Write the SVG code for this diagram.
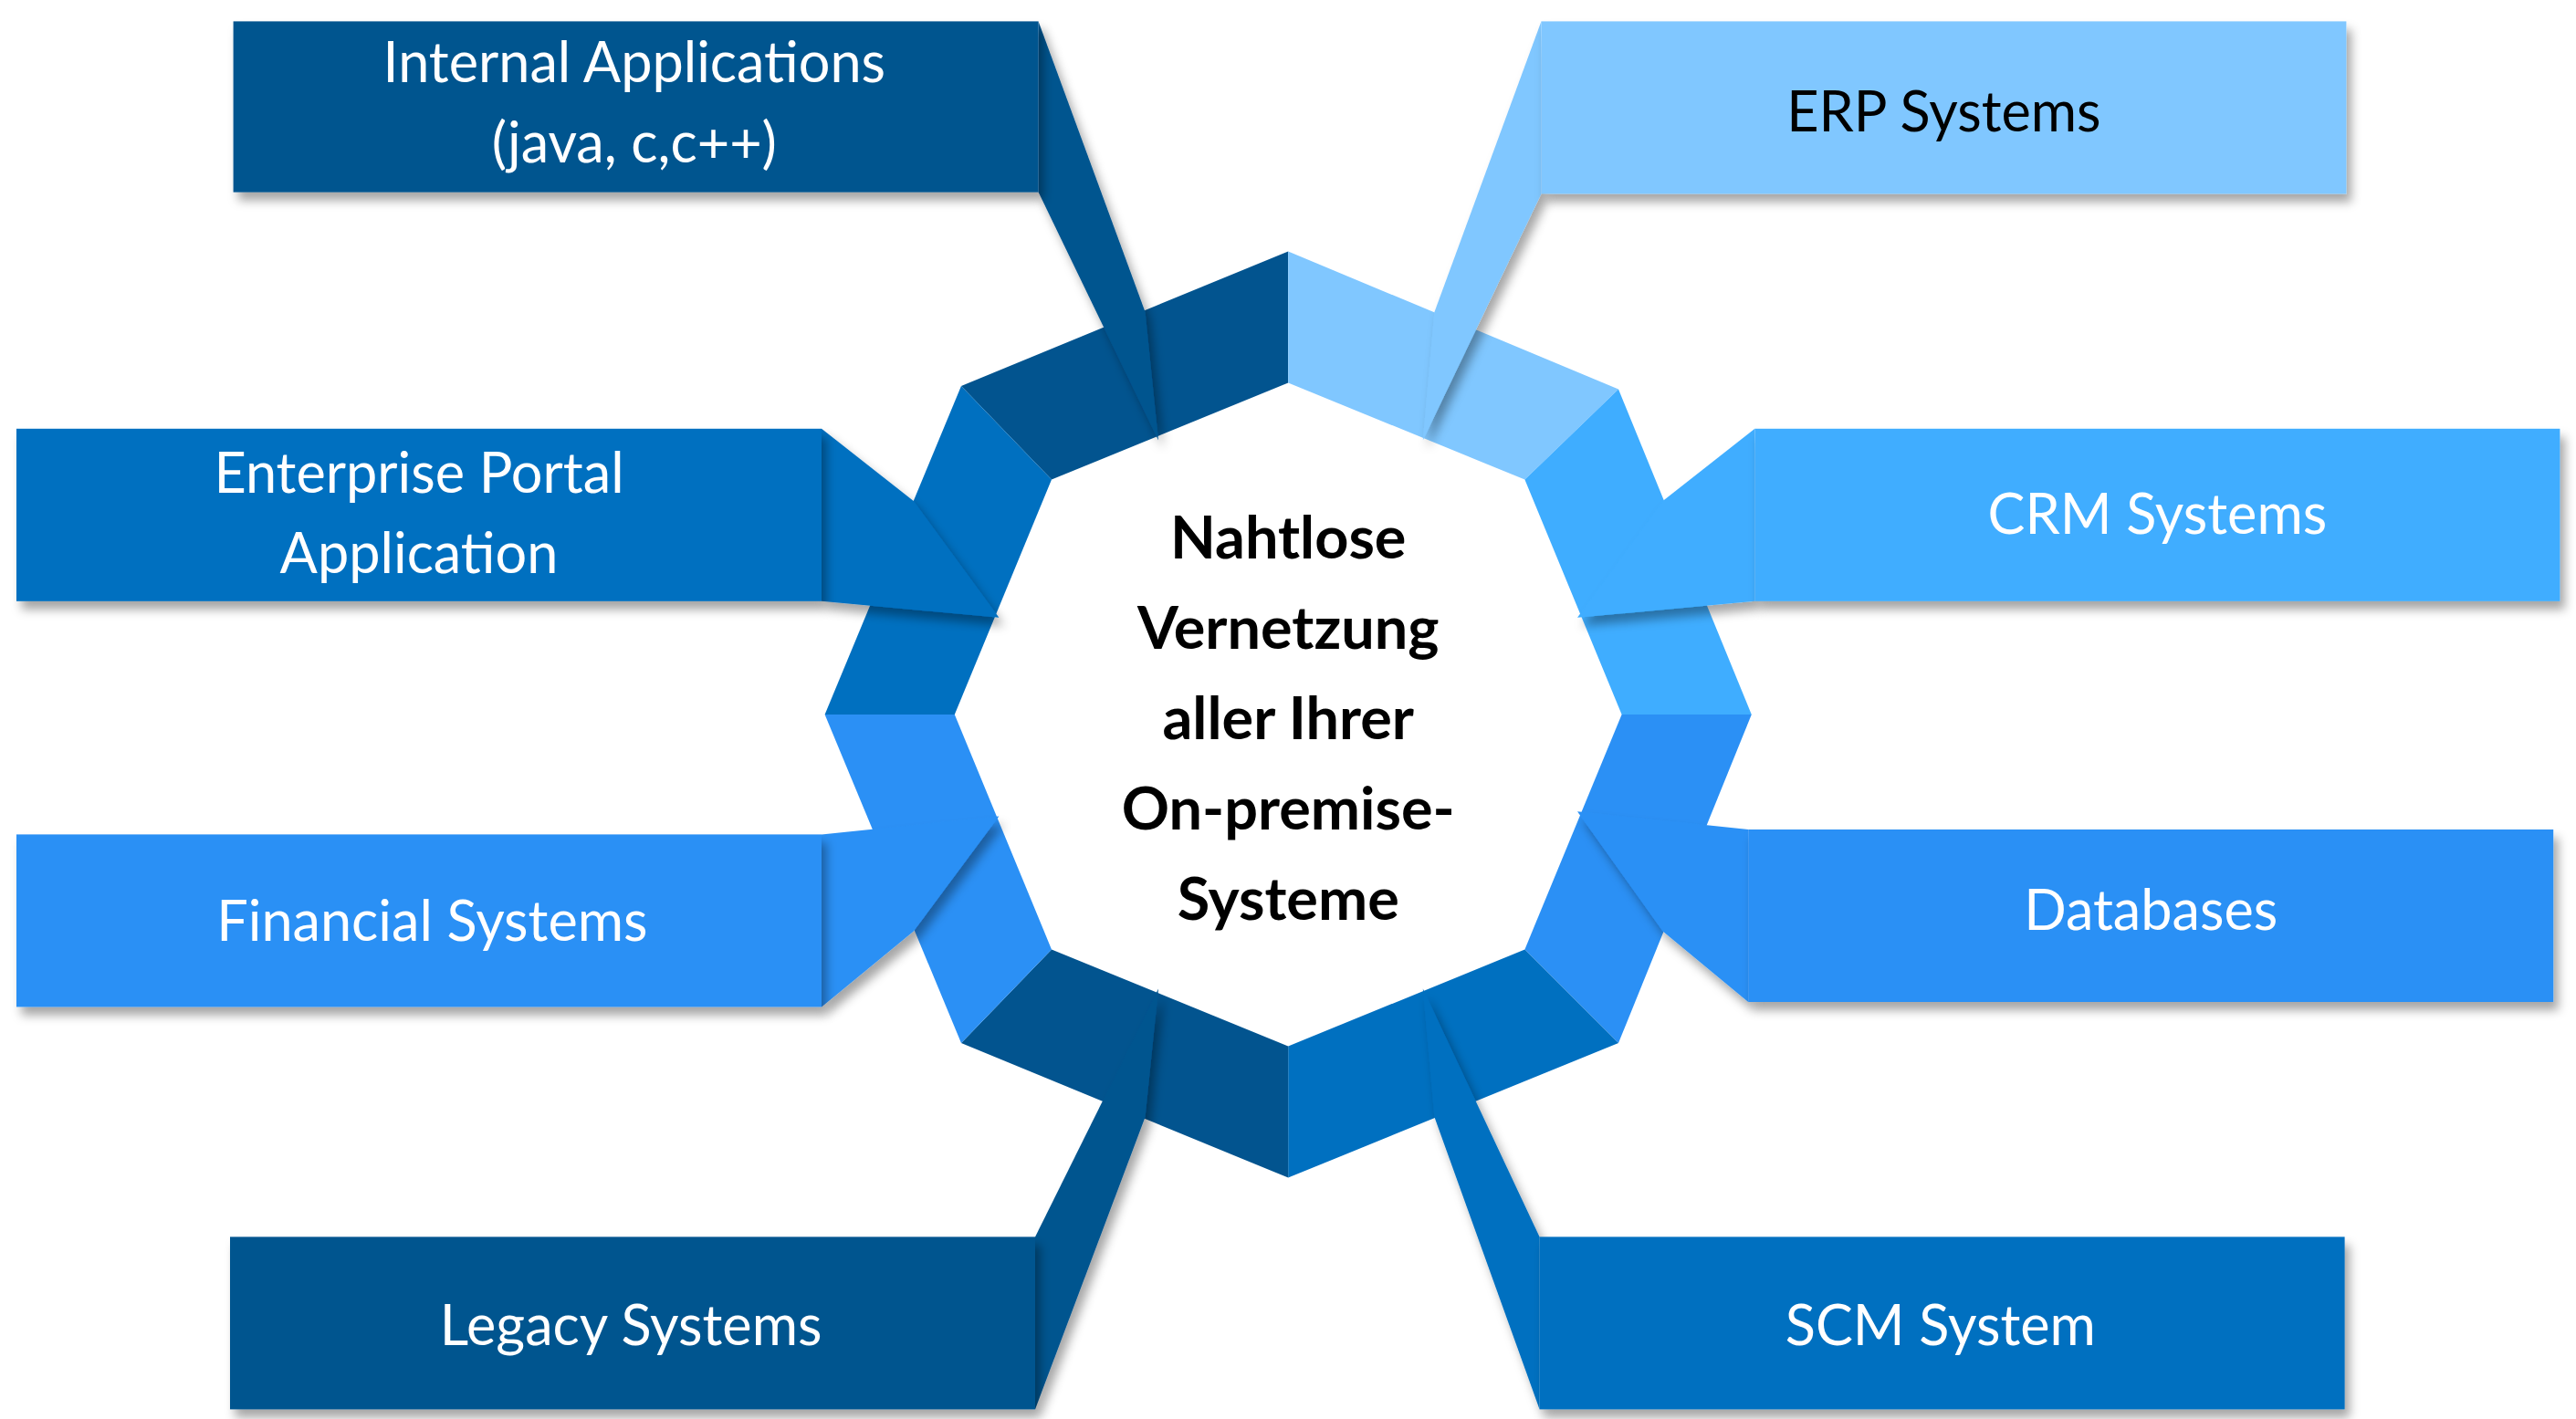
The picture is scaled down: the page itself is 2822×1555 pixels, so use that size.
<svg xmlns="http://www.w3.org/2000/svg" width="2822" height="1555" viewBox="0 0 2822 1555">
<defs>
<filter id="sh" x="-10%" y="-10%" width="130%" height="140%"><feDropShadow dx="3" dy="5" stdDeviation="3" flood-color="#000" flood-opacity="0.35"/></filter>
<style>
.c1{fill:#02548F}.c2{fill:#0070C0}.c3{fill:#2B90F5}.c4{fill:#3FADFF}.c5{fill:#80C7FF}
.t{font-family:Lato,"Open Sans",sans-serif;font-size:34px;fill:#fff;text-anchor:middle}
.dk{fill:#000}
.ct{font-family:Lato,"Open Sans",sans-serif;font-size:36px;font-weight:bold;fill:#000;text-anchor:middle}
</style>
</defs>
<rect width="2822" height="1555" fill="#fff"/>
<g transform="scale(1.8)">
<g id="ring">
<polygon class="c1" points="585,235 784,153 784,233 640,292"/>
<polygon class="c5" points="784,153 985,237 928,292 784,233"/>
<polygon class="c4" points="985,237 1066,435 987,435 928,292"/>
<polygon class="c3" points="1066,435 985,635 928,578 987,435"/>
<polygon class="c2" points="985,635 784,717 784,637 928,578"/>
<polygon class="c1" points="784,717 585,635 640,578 784,637"/>
<polygon class="c3" points="585,635 502,435 581,435 640,578"/>
<polygon class="c2" points="502,435 585,235 640,292 581,435"/>
</g>
<g id="connectors">
<polygon class="c1" points="632,13 697,190 705,268 632,117" filter="url(#sh)"/>
<polygon class="c2" points="500,261 556,305 608,376 500,366" filter="url(#sh)"/>
<polygon class="c5" points="938,13 873,190 866,268 938,118" filter="url(#sh)"/>
<polygon class="c4" points="1068,261 1012,305 960,376 1068,366" filter="url(#sh)"/>
<polygon class="c3" points="500,508 608,497 556,567 500,613" filter="url(#sh)"/>
<polygon class="c3" points="1064,505 960,494 1012,567 1064,610" filter="url(#sh)"/>
<polygon class="c1" points="630,858 697,680 705,602 630,753" filter="url(#sh)"/>
<polygon class="c2" points="937,858 873,680 866,602 937,753" filter="url(#sh)"/>
</g>
<g id="internal"><rect class="c1" x="142" y="13" width="490" height="104" filter="url(#sh)"/><text class="t" x="386" y="50">Internal Applications</text><text class="t" x="386" y="99">(java, c,c++)</text></g>
<g id="enterprise"><rect class="c2" x="10" y="261" width="490" height="105" filter="url(#sh)"/><text class="t" x="255" y="300">Enterprise Portal</text><text class="t" x="255" y="349">Application</text></g>
<g id="financial"><rect class="c3" x="10" y="508" width="490" height="105" filter="url(#sh)"/><text class="t" x="263" y="573">Financial Systems</text></g>
<g id="legacy"><rect class="c1" x="140" y="753" width="490" height="105" filter="url(#sh)"/><text class="t" x="384" y="819">Legacy Systems</text></g>
<g id="erp"><rect class="c5" x="938" y="13" width="490" height="105" filter="url(#sh)"/><text class="t dk" x="1183" y="80">ERP Systems</text></g>
<g id="crm"><rect class="c4" x="1068" y="261" width="490" height="105" filter="url(#sh)"/><text class="t" x="1313" y="325">CRM Systems</text></g>
<g id="databases"><rect class="c3" x="1064" y="505" width="490" height="105" filter="url(#sh)"/><text class="t" x="1309" y="566">Databases</text></g>
<g id="scm"><rect class="c2" x="937" y="753" width="490" height="105" filter="url(#sh)"/><text class="t" x="1181" y="819">SCM System</text></g>
<g id="center"><text class="ct" x="784" y="340">Nahtlose</text><text class="ct" x="784" y="395">Vernetzung</text><text class="ct" x="784" y="450">aller Ihrer</text><text class="ct" x="784" y="505">On-premise-</text><text class="ct" x="784" y="560">Systeme</text></g>
</g>
</svg>
